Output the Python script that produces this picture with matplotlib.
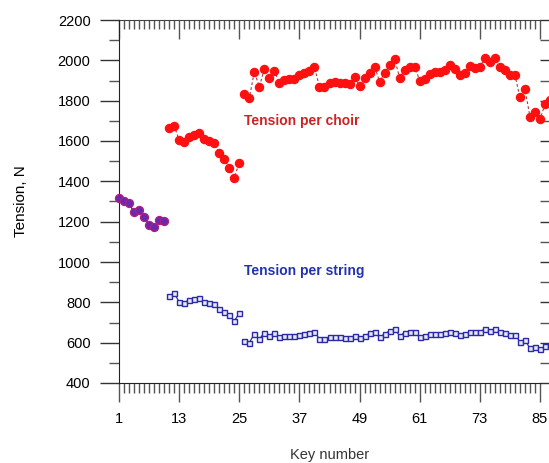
import matplotlib
matplotlib.use('Agg')
import matplotlib.pyplot as plt
import numpy as np
from matplotlib.ticker import MultipleLocator, FixedLocator

plt.rcParams['font.family'] = ['Liberation Sans', 'DejaVu Sans']

# keys 1-10: single string per choir (choir == string)
keys_single = list(range(1, 11))
tension_single = [1319, 1302, 1291, 1246, 1258, 1225, 1183, 1172, 1208, 1203]

# keys 11-25: bichords
keys_bi = list(range(11, 26))
choir_bi = [1663, 1676, 1605, 1597, 1621, 1630, 1641, 1608, 1602, 1589,
            1542, 1511, 1468, 1418, 1493]
string_bi = [831, 845, 803, 798, 812, 815, 820, 803, 798, 790,
             765, 754, 737, 707, 746]

# keys 26-87: trichords
keys_tri = list(range(26, 88))
choir_tri = [1833, 1812, 1944, 1869, 1957, 1914, 1947, 1889, 1903, 1906,
             1906, 1927, 1936, 1947, 1966, 1869, 1869, 1886, 1894, 1889,
             1889, 1881, 1919, 1874, 1914, 1939, 1969, 1894, 1939, 1977,
             2005, 1914, 1952, 1969, 1969, 1899, 1906, 1932, 1941, 1944,
             1952, 1977, 1955, 1927, 1936, 1972, 1961, 1969, 2010, 1993,
             2010, 1969, 1952, 1927, 1927, 1817, 1856, 1721, 1745, 1708,
             1782, 1803]
string_tri = [610, 600, 643, 617, 650, 633, 650, 627, 633, 633,
              633, 638, 643, 650, 654, 618, 618, 627, 627, 627,
              622, 622, 633, 622, 633, 646, 654, 627, 643, 658,
              668, 633, 650, 654, 654, 627, 635, 643, 643, 643,
              650, 654, 650, 638, 643, 654, 654, 654, 668, 659,
              668, 654, 646, 638, 638, 605, 613, 572, 577, 567,
              583, 588]

x_major = [1, 13, 25, 37, 49, 61, 73, 85]

fig = plt.figure(figsize=(5.49, 4.63), dpi=100)
ax = fig.add_axes([119/549, 80/463, 421/549, 363/463])

red = '#ff1010'
red_line = '#b03a3a'
blue = '#2a2aa6'

# tension per choir
for k, t in [(keys_bi, choir_bi), (keys_tri, choir_tri)]:
    ax.plot(k, t, linestyle=(0, (2.5, 2)), color=red_line, linewidth=0.8,
            marker='o', markersize=5.8, markerfacecolor=red,
            markeredgecolor=red, clip_on=False, zorder=3)

# tension per string
for k, t in [(keys_bi, string_bi), (keys_tri, string_tri)]:
    ax.plot(k, t, '-', color=blue, linewidth=0.9, marker='s', markersize=3.6,
            markerfacecolor='#e8e8f8', markeredgecolor=blue,
            markeredgewidth=1.0, clip_on=False, zorder=3)

# single strings: both curves coincide
ax.plot(keys_single, tension_single, '-', color='#2020c0', linewidth=1.0,
        marker='o', markersize=5.8, markerfacecolor='#6a28b0',
        markeredgecolor='#b0207a', markeredgewidth=0.9, clip_on=False, zorder=4)

ax.text(26, 1697, 'Tension per choir', color='#cc2424', fontsize=10,
        fontweight='bold', va='center')
ax.text(26, 955, 'Tension per string', color='#2233b0', fontsize=10,
        fontweight='bold', va='center')

ax.set_xlim(1, 85)
ax.set_ylim(400, 2200)

ax.xaxis.set_major_locator(FixedLocator(x_major))
ax.xaxis.set_minor_locator(MultipleLocator(1))
ax.yaxis.set_major_locator(MultipleLocator(200))
ax.yaxis.set_minor_locator(MultipleLocator(100))

tick_col = '#555555'
ax.tick_params(axis='x', which='major', direction='out', length=14, width=1,
               color=tick_col, labelsize=10.5, pad=7)
ax.tick_params(axis='x', which='minor', direction='out', length=7.5, width=1,
               color=tick_col)
ax.tick_params(axis='y', which='major', direction='out', length=13.5, width=1,
               color='#333333', labelsize=10.5, pad=7, right=True)
ax.tick_params(axis='y', which='minor', direction='out', length=7, width=1,
               color=tick_col, right=True)

# ticks along the top edge point inward
top = ax.secondary_xaxis('top')
top.xaxis.set_major_locator(FixedLocator(x_major))
top.xaxis.set_minor_locator(MultipleLocator(1))
top.tick_params(which='major', direction='in', length=14, width=1,
                color=tick_col, labeltop=False)
top.tick_params(which='minor', direction='in', length=6.5, width=1,
                color=tick_col)
top.spines['top'].set_color('#444444')

ax.spines['right'].set_visible(False)
ax.spines['top'].set_visible(False)
ax.spines['left'].set_color('#222222')
ax.spines['bottom'].set_color('#222222')

ax.set_ylabel('Tension, N', fontsize=11)
ax.yaxis.set_label_coords(-0.215, 0.5)
ax.set_xlabel('Key number', fontsize=10.5, color='#333333')
ax.xaxis.set_label_coords(0.501, -0.18)

fig.savefig('out.png', dpi=100)
